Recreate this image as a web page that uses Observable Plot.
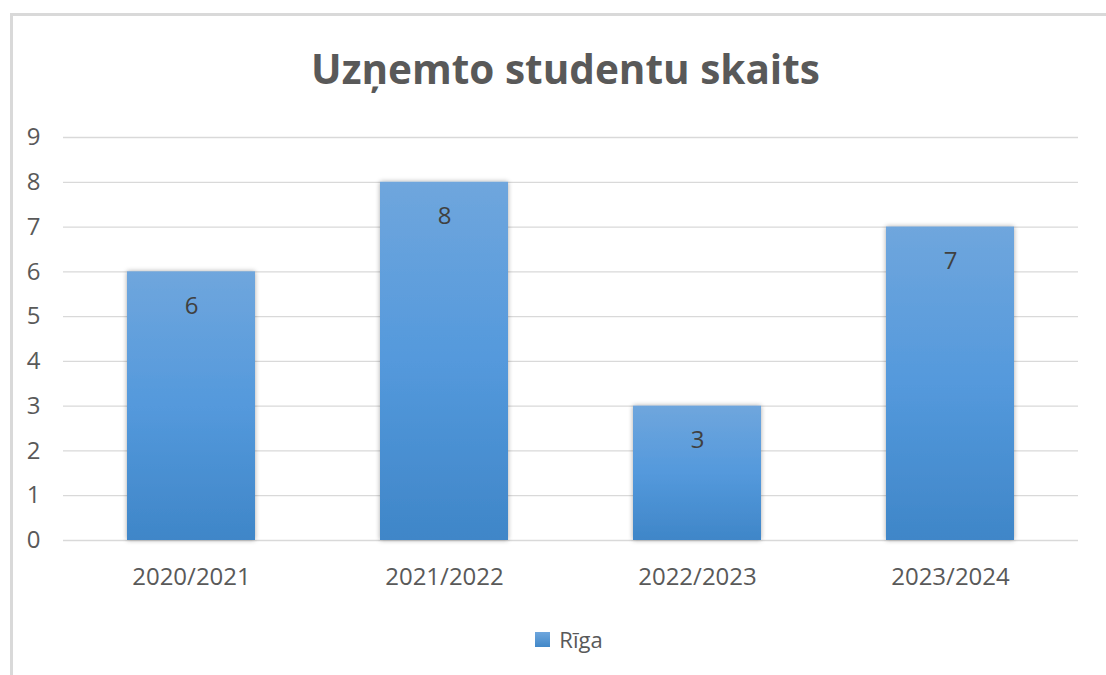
<!DOCTYPE html>
<html>
<head>
<meta charset="utf-8">
<script src="https://cdn.jsdelivr.net/npm/d3@7"></script>
<script src="https://cdn.jsdelivr.net/npm/@observablehq/plot@0.6"></script>
<style>
  html, body { margin: 0; padding: 0; background: #fff; overflow: hidden; width: 1106px; height: 675px; }
  #frame { position: absolute; left: 10px; top: 13px; width: 1200px; height: 800px; border: 3px solid #d9d9d9; box-sizing: border-box; pointer-events: none; }
  #wrap { position: absolute; left: 0; top: 0; width: 1106px; font-family: "Open Sans", sans-serif; }
  #title { height: 110px; box-sizing: border-box; padding-top: 49px; padding-left: 25px; line-height: 1; text-align: center; font-size: 40.5px; font-weight: 700; color: #595959; white-space: nowrap; }
  #chart svg { display: block; }
  #legend { margin-top: 18px; padding-left: 32px; display: flex; justify-content: center; align-items: center; font-size: 22px; color: #595959; line-height: 1; }
  #legend .sw { width: 15px; height: 15px; margin-right: 9px; background: linear-gradient(#6ea6dd, #4288c8); }
</style>
</head>
<body>
<div id="frame"></div>
<div id="wrap">
  <div id="title">Uzņemto studentu skaits</div>
  <div id="chart"></div>
  <div id="legend"><span class="sw"></span><span id="legendLabel"></span></div>
</div>
<script>
const categories = ["2020/2021", "2021/2022", "2022/2023", "2023/2024"];
const values = [6, 8, 3, 7];
const yTicks = [0, 1, 2, 3, 4, 5, 6, 7, 8, 9];
const seriesName = "Rīga";

const data = categories.map((c, i) => ({year: c, value: values[i]}));

document.getElementById("legendLabel").textContent = seriesName;

const plot = Plot.plot({
  width: 1106,
  height: 500,
  marginTop: 27,
  marginBottom: 70,
  marginLeft: 63,
  marginRight: 28,
  style: {fontFamily: "Open Sans, sans-serif", background: "transparent", overflow: "visible"},
  x: {domain: categories, paddingInner: 0.495, paddingOuter: 0.2475, label: null},
  y: {domain: [0, 9], label: null},
  marks: [
    Plot.gridY(yTicks, {stroke: "#d9d9d9", strokeOpacity: 1, strokeWidth: 1.3}),
    Plot.axisY(yTicks, {tickSize: 0, tickPadding: 23, fontSize: 24, fill: "#595959", label: null, tickFormat: d => String(d)}),
    Plot.axisX({tickSize: 0, tickPadding: 27, fontSize: 24, fill: "#595959", label: null}),
    Plot.barY(data, {x: "year", y: "value", fill: "url(#barGrad)"}),
    Plot.text(data, {x: "year", y: "value", text: d => String(d.value), dy: 34, fontSize: 24, fill: "#404040"})
  ]
});

// gradient + soft shadow definitions
const ns = "http://www.w3.org/2000/svg";
const defs = document.createElementNS(ns, "defs");
defs.innerHTML = `
  <linearGradient id="barGrad" x1="0" y1="0" x2="0" y2="1">
    <stop offset="0" stop-color="#6fa6dd"/>
    <stop offset="0.5" stop-color="#5499dc"/>
    <stop offset="1" stop-color="#3f86c8"/>
  </linearGradient>
  <filter id="barShadow" x="-20%" y="-10%" width="140%" height="120%">
    <feGaussianBlur in="SourceAlpha" stdDeviation="2.5"/>
    <feOffset dx="0" dy="0" result="b"/>
    <feComponentTransfer><feFuncA type="linear" slope="0.35"/></feComponentTransfer>
    <feMerge><feMergeNode/><feMergeNode in="SourceGraphic"/></feMerge>
  </filter>`;
plot.insertBefore(defs, plot.firstChild);
plot.querySelectorAll('g[aria-label="bar"] rect').forEach(r => r.setAttribute("filter", "url(#barShadow)"));

document.getElementById("chart").appendChild(plot);
</script>
</body>
</html>
